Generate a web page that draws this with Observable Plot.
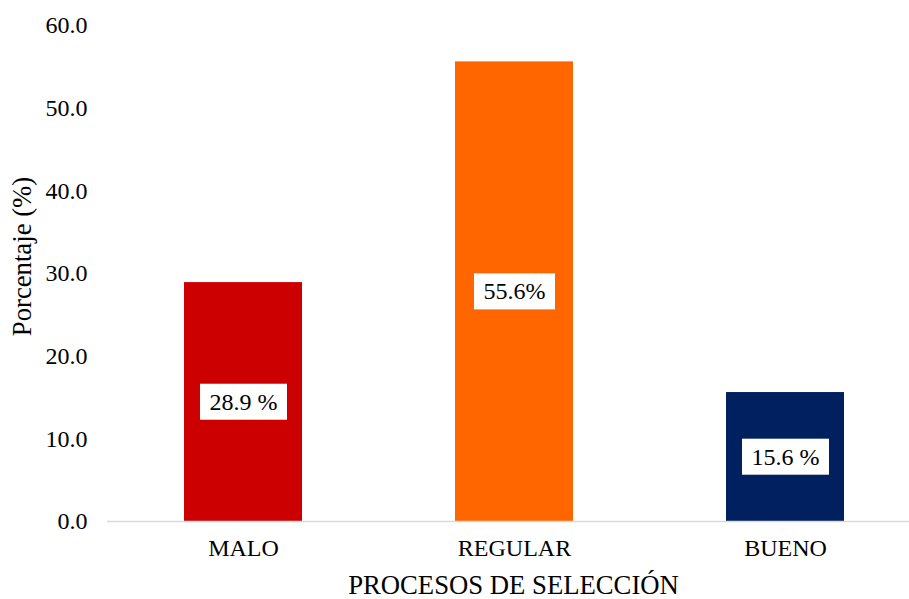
<!DOCTYPE html>
<html>
<head>
<meta charset="utf-8">
<script src="https://cdn.jsdelivr.net/npm/d3@7"></script>
<script src="https://cdn.jsdelivr.net/npm/@observablehq/plot@0.6"></script>
<style>
  html, body { margin: 0; padding: 0; background: #fff; }
  #chart svg, #chart svg text { font-family: "Liberation Serif", "Times New Roman", serif !important; }
</style>
</head>
<body>
<div id="chart"></div>
<script>
const categories = ["MALO", "REGULAR", "BUENO"];
const values = [28.9, 55.6, 15.6];
const valueLabels = ["28.9 %", "55.6%", "15.6 %"];
const colors = ["#CC0000", "#FF6600", "#002060"];
const yTicks = [0, 10, 20, 30, 40, 50, 60];
const xTitle = "PROCESOS DE SELECCIÓN";
const yTitle = "Porcentaje (%)";

const data = categories.map((c, i) => ({cat: c, value: values[i], label: valueLabels[i], color: colors[i]}));

const chart = Plot.plot({
  width: 909,
  height: 599,
  marginLeft: 107,
  marginRight: 0,
  marginTop: 25,
  marginBottom: 78,
  style: {fontSize: "24px", color: "#000", background: "#fff"},
  x: {
    domain: categories,
    paddingInner: 0.565,
    paddingOuter: 0.262,
    align: 0.542,
    label: null,
    tickSize: 0,
    tickPadding: 17
  },
  y: {
    domain: [0, 60],
    ticks: yTicks,
    tickFormat: d3.format(".1f"),
    label: null,
    tickSize: 0,
    tickPadding: 20
  },
  marks: [
    Plot.barY(data, {x: "cat", y: "value", fill: "color"}),
    Plot.ruleY([0], {stroke: "#d9d9d9", strokeWidth: 1.5}),
    Plot.text(data, {x: "cat", y: d => d.value / 2, text: "label", fill: "#000", fontSize: 24, className: "vlabel"}),
    Plot.text([xTitle], {frameAnchor: "bottom", lineAnchor: "middle", textAnchor: "middle", dy: 64, dx: 5, fontSize: 26.7, fill: "#000"}),
    Plot.text([yTitle], {frameAnchor: "left", lineAnchor: "middle", textAnchor: "middle", dx: -85, dy: -17, rotate: -90, fontSize: 26.7, fill: "#000"})
  ]
});

document.getElementById("chart").appendChild(chart);

// white boxes behind value labels
d3.select(chart).selectAll("g.vlabel text").each(function() {
  const b = this.getBBox();
  const padX = 9.5, h = 36;
  const cy = b.y + b.height / 2;
  d3.select(this.parentNode).insert("rect", () => this)
    .attr("x", b.x - padX).attr("y", cy - h / 2)
    .attr("width", b.width + 2 * padX).attr("height", h)
    .attr("fill", "#fff")
    .attr("transform", this.getAttribute("transform"));
});
</script>
</body>
</html>
